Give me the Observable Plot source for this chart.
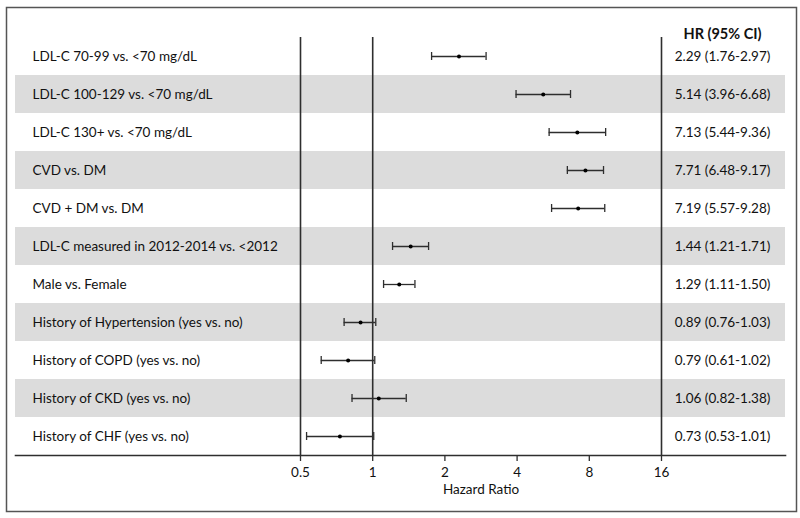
<!DOCTYPE html>
<html><head><meta charset="utf-8">
<script src="https://cdn.jsdelivr.net/npm/d3@7"></script>
<script src="https://cdn.jsdelivr.net/npm/@observablehq/plot@0.6"></script>
<style>body{margin:0;background:#fff;} svg{display:block;}</style>
</head><body><div id="chart"></div>
<script>
const labels = [
  "LDL-C 70-99 vs. <70 mg/dL",
  "LDL-C 100-129 vs. <70 mg/dL",
  "LDL-C 130+ vs. <70 mg/dL",
  "CVD vs. DM",
  "CVD + DM vs. DM",
  "LDL-C measured in 2012-2014 vs. <2012",
  "Male vs. Female",
  "History of Hypertension (yes vs. no)",
  "History of COPD (yes vs. no)",
  "History of CKD (yes vs. no)",
  "History of CHF (yes vs. no)"
];
const hr = [2.29, 5.14, 7.13, 7.71, 7.19, 1.44, 1.29, 0.89, 0.79, 1.06, 0.73];
const lo = [1.76, 3.96, 5.44, 6.48, 5.57, 1.21, 1.11, 0.76, 0.61, 0.82, 0.53];
const hi = [2.97, 6.68, 9.36, 9.17, 9.28, 1.71, 1.50, 1.03, 1.02, 1.38, 1.01];
const xTicks = [0.5, 1, 2, 4, 8, 16];
const refLines = [0.5, 1, 16];

const rows = labels.map((label, i) => ({
  label, hr: hr[i], lo: lo[i], hi: hi[i], i,
  txt: `${hr[i].toFixed(2)} (${lo[i].toFixed(2)}-${hi[i].toFixed(2)})`
}));
const ink = "#2e2e2e";

const chart = Plot.plot({
  width: 800, height: 518,
  marginLeft: 300, marginRight: 139, marginTop: 37, marginBottom: 63,
  style: {fontFamily: "Lato, sans-serif", fontSize: "13.5px", color: "#111", background: "#fff"},
  x: {type: "log", domain: [0.5, 16], label: null},
  y: {type: "band", domain: labels, padding: 0, axis: null},
  marks: [
    Plot.frame({stroke: "#555", strokeWidth: 1.5, insetLeft: -294, insetRight: -135, insetTop: -30, insetBottom: -56}),
    Plot.rect(rows.filter(d => d.i % 2 === 1), {y: "label", fill: "#dcdcdc", insetLeft: -285, insetRight: -124}),
    Plot.ruleX(refLines, {stroke: ink, strokeWidth: 1.6}),
    Plot.frame({anchor: "bottom", stroke: ink, strokeWidth: 1.6, insetLeft: -285, insetRight: -124}),
    Plot.axisX({ticks: xTicks, tickFormat: () => "", tickSize: 6, stroke: ink, strokeWidth: 1.3, label: null}),
    Plot.text(xTicks, {x: d => d, text: d => String(d), frameAnchor: "bottom", dy: 21, fontSize: 13.5}),
    Plot.text(["Hazard Ratio"], {frameAnchor: "bottom", dy: 38, fontSize: 13.5}),
    Plot.ruleY(rows, {y: "label", x1: "lo", x2: "hi", stroke: ink, strokeWidth: 1.3}),
    Plot.tickX(rows, {y: "label", x: "lo", stroke: ink, strokeWidth: 1.3, inset: 15}),
    Plot.tickX(rows, {y: "label", x: "hi", stroke: ink, strokeWidth: 1.3, inset: 15}),
    Plot.dot(rows, {y: "label", x: "hr", r: 2, fill: "#000"}),
    Plot.text(rows, {y: "label", text: "label", frameAnchor: "left", dx: -268, textAnchor: "start", fontSize: 13.5}),
    Plot.text(rows, {y: "label", text: "txt", frameAnchor: "right", dx: 61, textAnchor: "middle", fontSize: 13.5}),
    Plot.text(["HR (95% CI)"], {frameAnchor: "top-right", dx: 61, dy: -9, textAnchor: "middle", fontWeight: "bold", fontSize: 14.5})
  ]
});
document.getElementById("chart").appendChild(chart);
</script></body></html>
